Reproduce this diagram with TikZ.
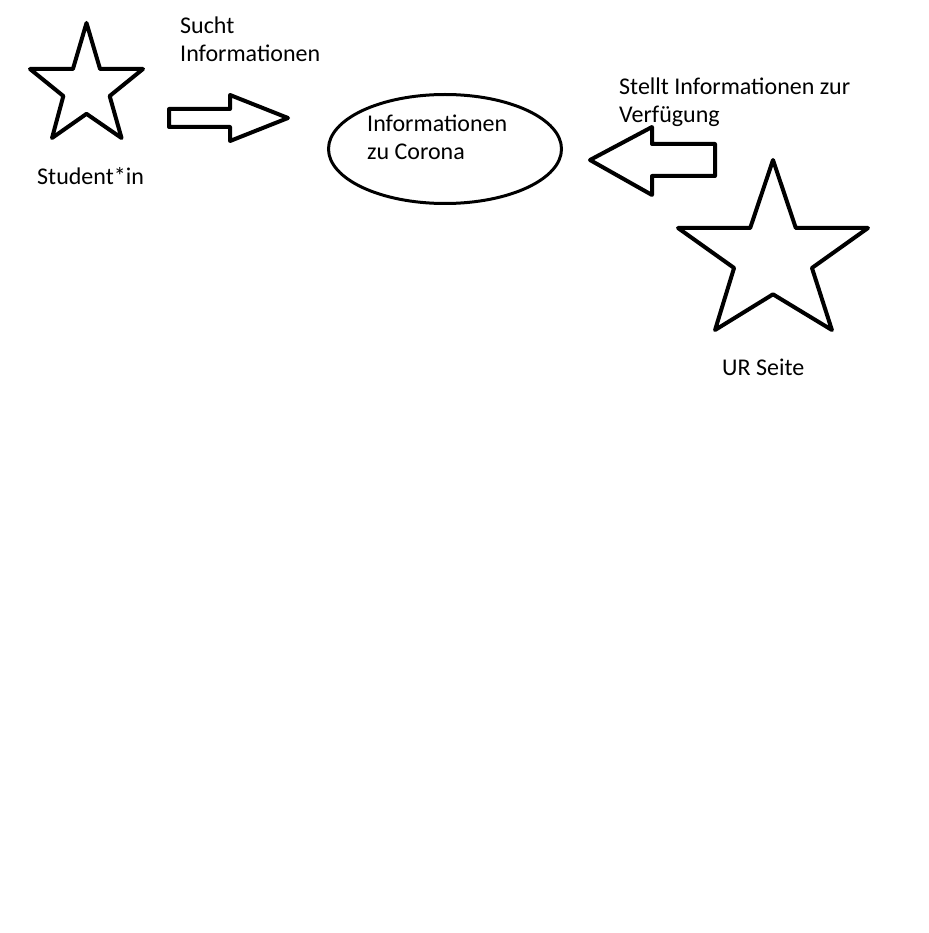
\documentclass[tikz,border=0pt]{standalone}
\usepackage{fontspec}
\setmainfont{Carlito}
\usetikzlibrary{shapes.geometric}
\tikzset{
  starline/.style={draw=black,line width=4pt,line join=round},
  blockarrow/.style={draw=black,line width=4pt,line join=round},
  topicbox/.style={draw=black,ellipse,line width=3pt,inner sep=0pt,minimum width=233pt,minimum height=109pt},
  caption/.style={inner sep=0pt,anchor=base west,align=left,font=\fontsize{24}{28.5}\selectfont},
  paintstar/.pic={
    \draw[starline] (0.5,0) -- (0.62,0.40) -- (1,0.40) -- (0.705,0.635) -- (0.81,1)
      -- (0.5,0.79) -- (0.195,1) -- (0.295,0.635) -- (0,0.40) -- (0.38,0.40) -- cycle;
    \coordinate (-c) at (0.5,0.5);
  }
}
\begin{document}
\begin{tikzpicture}[x=1pt,y=-1pt]
  \fill[white] (0,0) rectangle (928,933);
  \useasboundingbox (0,0) rectangle (928,933);
  % actors
  \pic[xscale=113,yscale=115] (student) at (30,23) {paintstar};
  \pic[xscale=190,yscale=170] (ur) at (678,160) {paintstar};
  \node[caption] (studentlabel) at (37,185) {Student*in};
  \node[caption] (urlabel) at (722,375) {UR Seite};
  % topic
  \node[topicbox] (info) at (445,149) {};
  \node[caption] (infotext) at (367,160) {Informationen\\zu Corona};
  % block arrows
  \draw[blockarrow] (169,109) -- (230,109) -- (230,95) -- (288,118) -- (230,141)
    -- (230,127) -- (169,127) -- cycle;
  \draw[blockarrow] (590,160) -- (652,127) -- (652,144) -- (715,144) -- (715,176)
    -- (652,176) -- (652,195) -- cycle;
  \node[caption] (search) at (180,62) {Sucht\\Informationen};
  \node[caption] (provide) at (619,123) {Stellt Informationen zur\\Verfügung};
\end{tikzpicture}
\end{document}
